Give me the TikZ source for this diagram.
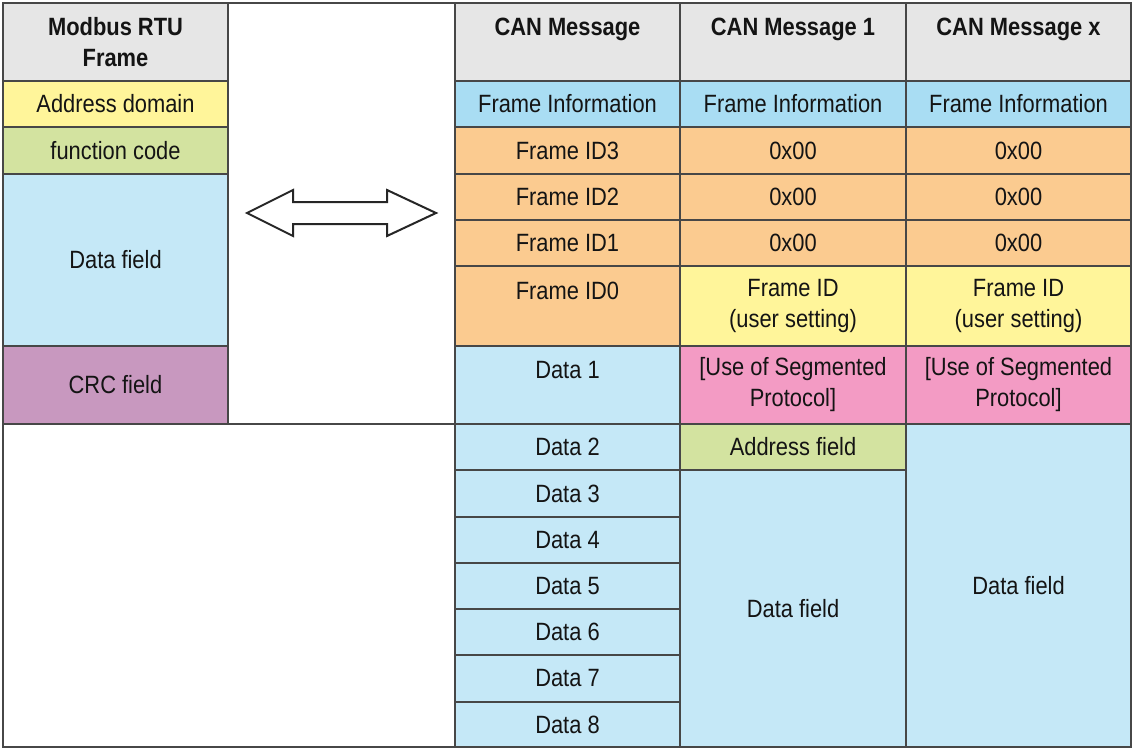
\documentclass[tikz,border=0pt]{standalone}
\usepackage{fontspec}
\setmainfont{Liberation Sans}[FakeStretch=0.875]

\definecolor{hdrgray}{HTML}{E6E6E6}
\definecolor{addryellow}{HTML}{FFF59A}
\definecolor{funcgreen}{HTML}{D3E3A0}
\definecolor{datablue}{HTML}{C5E8F7}
\definecolor{infoblue}{HTML}{A9DDF3}
\definecolor{idorange}{HTML}{FBCB90}
\definecolor{segpink}{HTML}{F39BC4}
\definecolor{crcpurple}{HTML}{C898BF}
\colorlet{rule}{black!72}

\tikzset{cell/.style={draw=rule, line width=1.3pt, inner sep=0pt, outer sep=0pt,
        align=center, text=black!92, font=\fontsize{25}{31}\selectfont},
    head/.style={cell, fill=hdrgray, font=\fontsize{25}{31}\selectfont\bfseries}}

% \cellbox{name}{x1}{y1}{x2}{y2}{style}{text}
\newcommand\cellbox[7]{%
    \node[cell, #6, minimum width={(#4-#2)*1pt}, minimum height={(#5-#3)*1pt}]
        (#1) at ({(#2+#4)/2},{(#3+#5)/2}) {#7};}

\begin{document}
\begin{tikzpicture}[x=1pt, y=-1pt]
    \useasboundingbox (0,0) rectangle (1134,749);

    % Modbus RTU frame
    \cellbox{mbhead}{3}{3}{228}{81}{head}{Modbus RTU\\Frame}
    \cellbox{mbaddr}{3}{81}{228}{127}{fill=addryellow}{Address domain}
    \cellbox{mbfunc}{3}{127}{228}{174}{fill=funcgreen}{function code}
    \cellbox{mbdata}{3}{174}{228}{346}{fill=datablue}{Data field}
    \cellbox{mbcrc}{3}{346}{228}{424}{fill=crcpurple}{CRC field}
    \cellbox{gap}{228}{3}{455}{424}{fill=white}{}
    \cellbox{blank}{3}{424}{455}{747}{fill=white}{}

    % conversion arrow
    \draw[black!85, line width=2pt, fill=white] (247,213) -- (293,190) -- (293,202)
        -- (387,202) -- (387,190) -- (436,213) -- (387,236) -- (387,224)
        -- (293,224) -- (293,236) -- cycle;

    % CAN message
    \cellbox{canhead}{455}{3}{680}{81}{head}{CAN Message\\~}
    \cellbox{caninfo}{455}{81}{680}{127}{fill=infoblue}{Frame Information}
    \cellbox{canid3}{455}{127}{680}{174}{fill=idorange}{Frame ID3}
    \cellbox{canid2}{455}{174}{680}{220}{fill=idorange}{Frame ID2}
    \cellbox{canid1}{455}{220}{680}{266}{fill=idorange}{Frame ID1}
    \cellbox{canid0}{455}{266}{680}{346}{fill=idorange}{Frame ID0\\~}
    \cellbox{candata1}{455}{346}{680}{424}{fill=datablue}{Data 1\\~}
    \foreach \i/\ya/\yb in {2/424/470, 3/470/517, 4/517/563, 5/563/609,
                            6/609/655, 7/655/702, 8/702/747}{
        \cellbox{candata\i}{455}{\ya}{680}{\yb}{fill=datablue}{Data \i}
    }

    % CAN message 1
    \cellbox{onehead}{680}{3}{906}{81}{head}{CAN Message 1\\~}
    \cellbox{oneinfo}{680}{81}{906}{127}{fill=infoblue}{Frame Information}
    \cellbox{oneid3}{680}{127}{906}{174}{fill=idorange}{0x00}
    \cellbox{oneid2}{680}{174}{906}{220}{fill=idorange}{0x00}
    \cellbox{oneid1}{680}{220}{906}{266}{fill=idorange}{0x00}
    \cellbox{oneid0}{680}{266}{906}{346}{fill=addryellow}{Frame ID\\(user setting)}
    \cellbox{oneseg}{680}{346}{906}{424}{fill=segpink}{[Use of Segmented\\Protocol]}
    \cellbox{oneaddr}{680}{424}{906}{470}{fill=funcgreen}{Address field}
    \cellbox{onedata}{680}{470}{906}{747}{fill=datablue}{Data field}

    % CAN message x
    \cellbox{xhead}{906}{3}{1131}{81}{head}{CAN Message x\\~}
    \cellbox{xinfo}{906}{81}{1131}{127}{fill=infoblue}{Frame Information}
    \cellbox{xid3}{906}{127}{1131}{174}{fill=idorange}{0x00}
    \cellbox{xid2}{906}{174}{1131}{220}{fill=idorange}{0x00}
    \cellbox{xid1}{906}{220}{1131}{266}{fill=idorange}{0x00}
    \cellbox{xid0}{906}{266}{1131}{346}{fill=addryellow}{Frame ID\\(user setting)}
    \cellbox{xseg}{906}{346}{1131}{424}{fill=segpink}{[Use of Segmented\\Protocol]}
    \cellbox{xdata}{906}{424}{1131}{747}{fill=datablue}{Data field}

\end{tikzpicture}
\end{document}
